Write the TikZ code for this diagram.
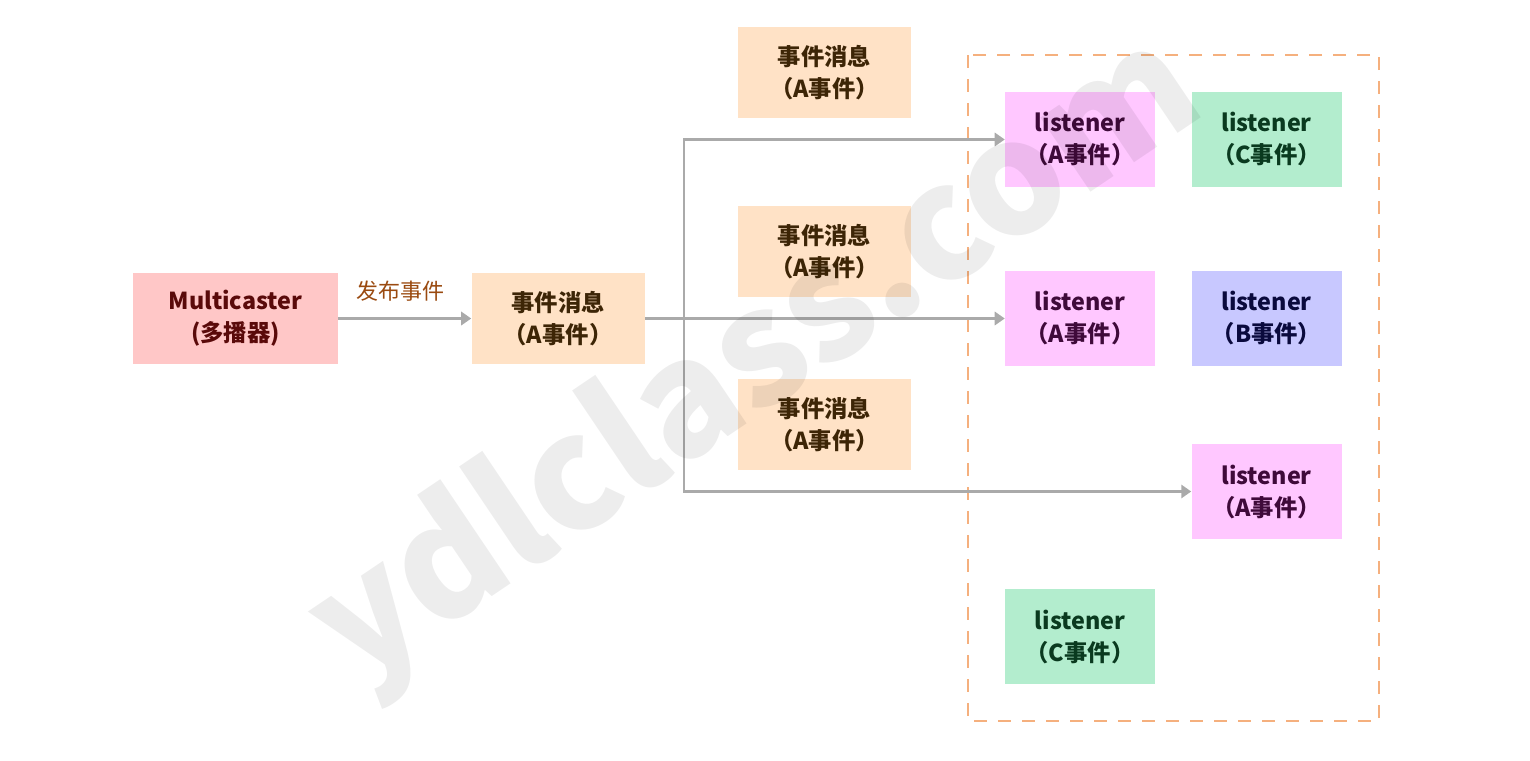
\documentclass[tikz,border=0pt]{standalone}
\usepackage{fontspec}
\setmainfont{Noto Sans CJK SC}
\usetikzlibrary{arrows.meta}
\definecolor{mcfill}{HTML}{FFC7C7}
\definecolor{mctext}{HTML}{5A0A0A}
\definecolor{msgfill}{HTML}{FFE2C6}
\definecolor{msgtext}{HTML}{3D2506}
\definecolor{afill}{HTML}{FFC7FF}
\definecolor{atext}{HTML}{3F0A3A}
\definecolor{cfill}{HTML}{B3EDCE}
\definecolor{ctext}{HTML}{0A3A1F}
\definecolor{bfill}{HTML}{C8C8FF}
\definecolor{btext}{HTML}{0A0A3D}
\definecolor{linegray}{HTML}{AAAAAA}
\definecolor{dashorange}{HTML}{F5B07E}
\definecolor{labelbrown}{HTML}{9A4A10}
\tikzset{
  box/.style={draw=none, inner sep=0pt, align=center, font=\fontsize{17.5}{24}\selectfont\bfseries},
  mcbox/.style={box, fill=mcfill, text=mctext, minimum width=205*0.75pt, minimum height=91*0.75pt},
  msgbox/.style={box, fill=msgfill, text=msgtext, minimum width=173*0.75pt, minimum height=91*0.75pt},
  lisA/.style={box, fill=afill, text=atext, minimum width=150*0.75pt, minimum height=95*0.75pt},
  lisB/.style={box, fill=bfill, text=btext, minimum width=150*0.75pt, minimum height=95*0.75pt},
  lisC/.style={box, fill=cfill, text=ctext, minimum width=150*0.75pt, minimum height=95*0.75pt},
  conn/.style={draw=linegray, line width=1.6pt, -{Triangle[length=7.5pt,width=10pt]}},
  group/.style={draw=dashorange, line width=1.5pt, dash pattern=on 10pt off 8pt},
}
\begin{document}
\begin{tikzpicture}[x=0.75pt,y=-0.75pt]
\useasboundingbox (0,0) rectangle (1530,760);
% dashed container
\draw[group] (968,55) rectangle (1379,721);
% nodes
\node[mcbox] (mc) at (235.5,318.5) {Multicaster\\(多播器)};
\node[msgbox] (main) at (558,318.5) {事件消息\\（A事件）};
\node[msgbox] (m1) at (824.5,72.5) {事件消息\\（A事件）};
\node[msgbox] (m2) at (824.5,251.5) {事件消息\\（A事件）};
\node[msgbox] (m3) at (824.5,424.5) {事件消息\\（A事件）};
\node[lisA] (l1a) at (1080,139.5) {listener\\（A事件）};
\node[lisC] (l1c) at (1266.5,139.5) {listener\\（C事件）};
\node[lisA] (l2a) at (1080,318.5) {listener\\（A事件）};
\node[lisB] (l2b) at (1266.5,318.5) {listener\\（B事件）};
\node[lisA] (l3a) at (1266.5,491.5) {listener\\（A事件）};
\node[lisC] (l4c) at (1080,636.5) {listener\\（C事件）};
% connectors
\draw[conn] (mc.east) -- node[above=9pt, pos=0.47, text=labelbrown, font=\fontsize{16.5}{20}\selectfont] (lbl) {发布事件} (main.west);
\draw[conn] (main.east) -- (l2a.west);
\coordinate (br) at (684,318.5);
\draw[conn] (br) |- (l1a.west);
\draw[conn] (br) |- (l3a.west);
% watermark
\node[rotate=34, text=black, opacity=0.07, font=\fontsize{118}{118}\selectfont\bfseries] (wm) at (758,362) {ydlclass.com};
\end{tikzpicture}
\end{document}
